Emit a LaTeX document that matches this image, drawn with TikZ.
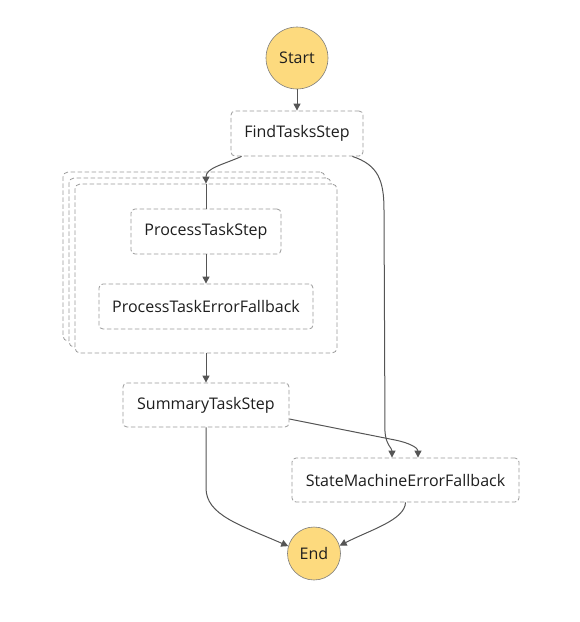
\documentclass[tikz,border=0pt]{standalone}
\usepackage{fontspec}
\setmainfont{Open Sans}
\usetikzlibrary{arrows.meta}
\definecolor{boxgray}{HTML}{9A9A9A}
\definecolor{arrgray}{HTML}{555555}
\definecolor{termfill}{HTML}{FDDA7E}
\definecolor{termline}{HTML}{7D7D7D}
\definecolor{txt}{HTML}{1E1E1E}
\begin{document}
\begin{tikzpicture}[x=1pt,y=-1pt,
  every node/.style={font=\fontsize{16}{18}\selectfont, text=txt, inner sep=0pt},
  stepbox/.style={draw=boxgray, dash pattern=on 4.5pt off 2.5pt, rounded corners=4pt, fill=white, line width=0.8pt},
  mapbox/.style={draw=boxgray, dash pattern=on 4.5pt off 2.5pt, rounded corners=5pt, fill=white, line width=0.8pt, minimum width=262pt, minimum height=169pt},
  term/.style={circle, draw=termline, fill=termfill, line width=0.6pt},
  conn/.style={draw=arrgray, line width=1pt},
  arr/.style={conn, -{Triangle[length=7pt,width=7pt]}}]
\useasboundingbox (0,0) rectangle (580,622);
\node[term, minimum size=62pt] (start) at (297,58) {Start};
\node[stepbox, minimum width=132pt, minimum height=45pt] (find) at (297,133.5) {FindTasksStep};
\node[mapbox] (map2) at (194,256.5) {};
\node[mapbox] (map1) at (200,262.5) {};
\node[mapbox] (map) at (206,268.5) {};
\node[stepbox, minimum width=150pt, minimum height=45pt] (pts) at (206,231.5) {ProcessTaskStep};
\node[stepbox, minimum width=214pt, minimum height=45pt] (ptef) at (206,306.5) {ProcessTaskErrorFallback};
\node[stepbox, minimum width=166pt, minimum height=44pt] (sum) at (206,405) {SummaryTaskStep};
\node[stepbox, minimum width=227pt, minimum height=44pt] (smef) at (405.5,480) {StateMachineErrorFallback};
\node[term, minimum size=53pt] (end) at (314,553.5) {End};

\draw[arr] (start) -- (find);
\draw[arr] ([xshift=11pt]find.south west) .. controls (222,165) and (206,168) .. (map.north);
\draw[conn] (map.north) -- (pts.north);
\draw[arr] (pts) -- (ptef);
\draw[arr] (map.south) -- (sum.north);
\draw[arr] ([xshift=-11pt]find.south east) .. controls (378,165) and (384,180) .. (384,210) -- (385,432) .. controls (386,445) and (392,448) .. ([xshift=-13.5pt]smef.north);
\draw[arr] ([yshift=-14pt]sum.east) -- (395,440) .. controls (410,443) and (418,448) .. ([xshift=12.5pt]smef.north);
\draw[arr] (sum.south) -- (206,488) .. controls (206,515) and (240,525) .. (end.164);
\draw[arr] (smef.south) .. controls (405,520) and (370,530) .. (end.17);
\end{tikzpicture}
\end{document}
